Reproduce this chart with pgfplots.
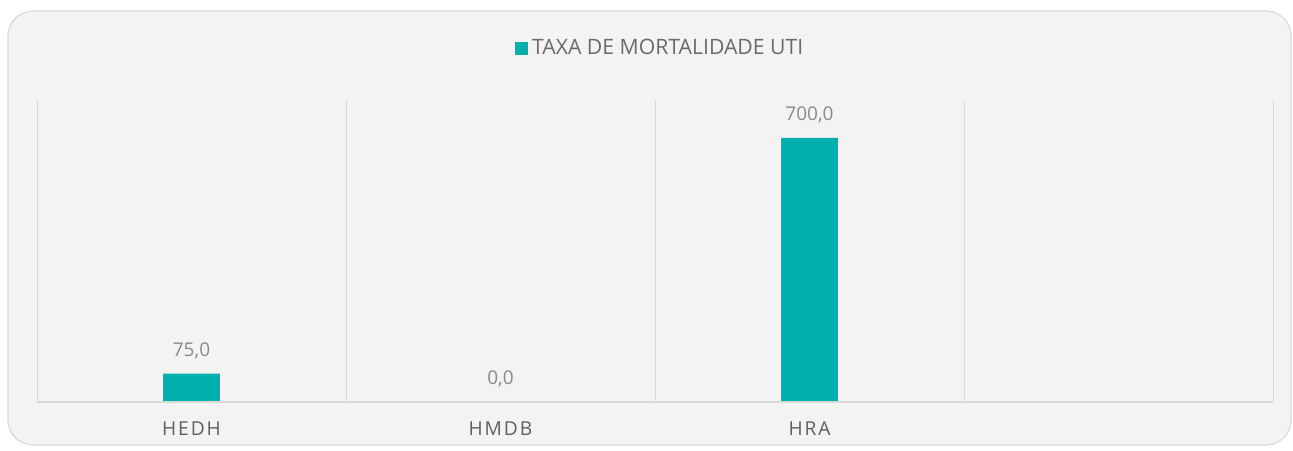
\documentclass[border=0pt]{standalone}
\usepackage{fontspec}
\setmainfont{Open Sans}
\usepackage{pgfplots}
\pgfplotsset{compat=1.18}
\definecolor{teal1}{HTML}{00B0AC}
\definecolor{bgc}{HTML}{F3F3F3}
\definecolor{gridc}{HTML}{D9D9D9}
\definecolor{lblc}{HTML}{8A8A8A}
\definecolor{tickc}{HTML}{606060}
\definecolor{legc}{HTML}{6A6A6A}
\begin{document}
\begin{tikzpicture}
\begin{scope}
\clip (0,0) rectangle (646.5pt,225pt);
\fill[white] (0,0) rectangle (646.5pt,225pt);
\draw[gridc, fill=bgc, line width=0.6pt, rounded corners=12.5pt] (4pt,2.5pt) rectangle (645.5pt,219.5pt);
\end{scope}
\useasboundingbox (0,0) rectangle (646.5pt,225pt);
\begin{axis}[
  at={(18.5pt,24pt)}, anchor=south west,
  scale only axis, width=618pt, height=151pt,
  xmin=0, xmax=4, ymin=0, ymax=800,
  axis line style={draw=none},
  axis x line*=bottom,
  xtick={0.5,1.5,2.5},
  xticklabels={HEDH,HMDB,HRA},
  minor xtick={0,1,2,3,4},
  minor x grid style={gridc, line width=0.5pt},
  xminorgrids=true,
  major tick length=0pt, minor tick length=0pt,
  ytick=\empty,
  xticklabel style={font=\fontsize{9.6}{11}\selectfont\addfontfeature{LetterSpace=10}, text=tickc, yshift=-6.5pt},
  ybar, bar width=28.3pt,
  nodes near coords,
  every node near coord/.append style={font=\fontsize{9.5}{11}\selectfont, text=lblc, anchor=south, yshift=4pt},
  /pgf/number format/.cd, fixed, fixed zerofill, precision=1, use comma, assume math mode=true,
  /pgfplots/.cd,
  legend style={at={(0.505,1.172)}, anchor=center, draw=none, fill=none, font=\fontsize{10.6}{12}\selectfont, text=legc, inner sep=0pt},
  legend image code/.code={\fill[teal1] (0pt,-3.25pt) rectangle (6.5pt,3.25pt);},
  legend cell align=left,
  clip=false,
]
\addplot[fill=teal1, draw=none, bar shift=0pt] coordinates {(0.5,75) (1.5,0) (2.5,700)};
\addlegendentry{TAXA DE MORTALIDADE UTI}
\draw[gridc, line width=0.7pt] (axis cs:0,0) -- (axis cs:4,0);
\end{axis}
\end{tikzpicture}
\end{document}
